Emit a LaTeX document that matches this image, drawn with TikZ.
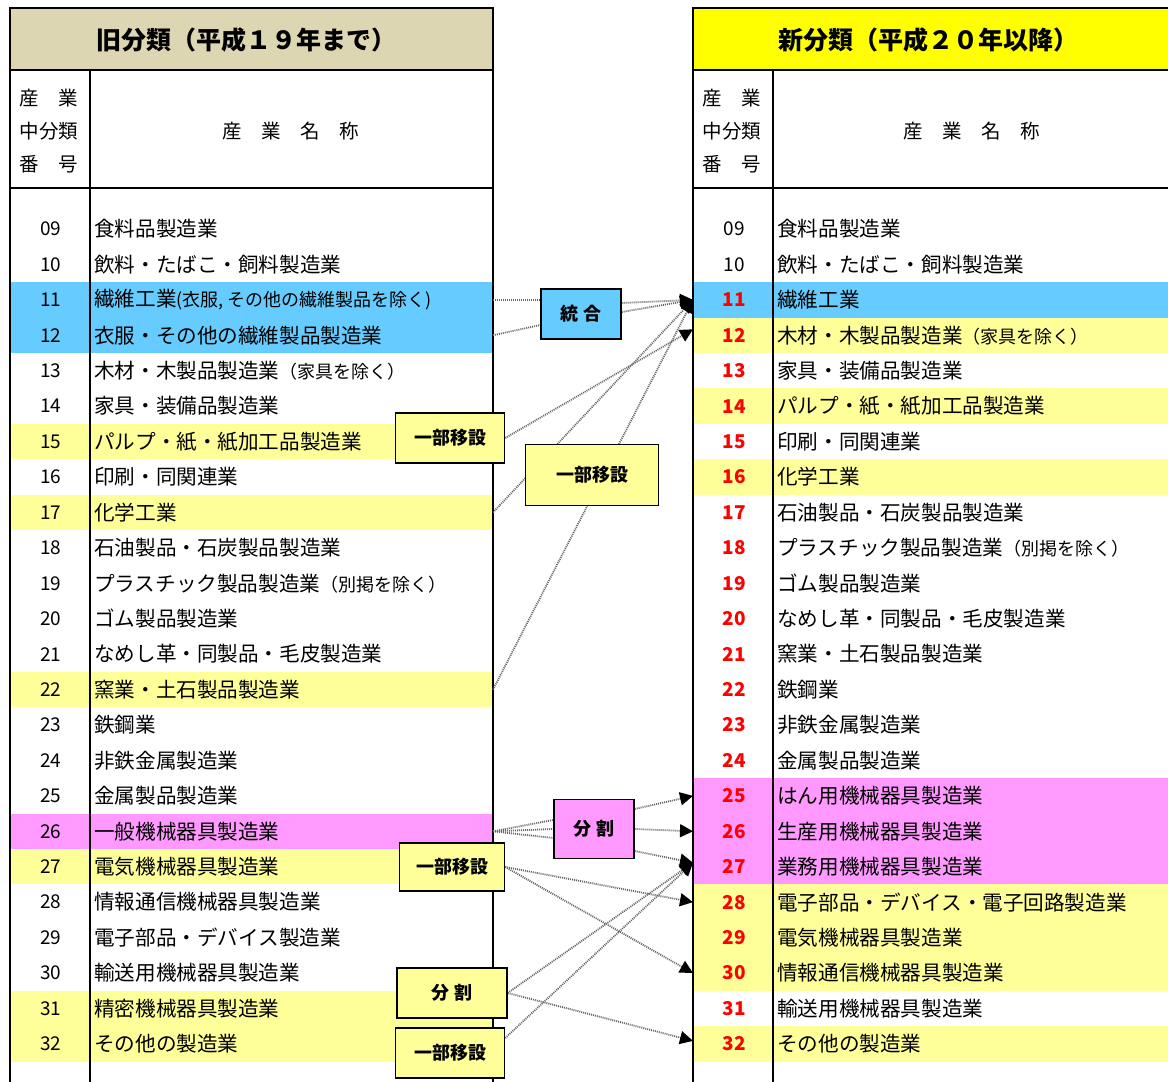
\documentclass[tikz,border=0pt]{standalone}
\usepackage{fontspec}
\setmainfont{Noto Sans CJK JP}
\usetikzlibrary{arrows.meta, positioning}
\pgfdeclarelayer{back}
\pgfdeclarelayer{links}
\pgfsetlayers{back,links,main}
\definecolor{bandblue}{RGB}{102,204,255}
\definecolor{bandyellow}{RGB}{255,255,153}
\definecolor{bandpink}{RGB}{255,153,255}
\definecolor{titleyellow}{RGB}{255,255,0}
\definecolor{titlekhaki}{RGB}{221,214,178}
\newcommand\notefont{\fontsize{18}{18}\selectfont}

\begin{document}
\begin{tikzpicture}[x=1pt, y=-1pt,
                        every node/.style={inner sep=0pt, text=black},
                        oldnum/.style={font=\fontsize{19}{19}\selectfont},
                        newnum/.style={font=\fontsize{19}{19}\selectfont\bfseries, text=red},
                        rowname/.style={font=\fontsize{20.6}{20.6}\selectfont, anchor=west},
                        colhead/.style={font=\fontsize{19.5}{33}\selectfont},
                        tabletitle/.style={font=\fontsize{25}{25}\selectfont\bfseries},
                        tag/.style={draw, line width=1.4pt, minimum height=50pt,
                                    font=\fontsize{18}{18}\selectfont\bfseries},
                        feed/.style={draw=black!60, line width=1.8pt, dash pattern=on 1pt off 1pt},
                        link/.style={feed, -{Triangle[color=black, length=13pt, width=13pt]}}
                        ]
  \useasboundingbox (0,0) rectangle (1168,1082);

  \begin{pgfonlayer}{back}
    % old table
    \fill[titlekhaki] (10,8) rectangle (493,70);
    \foreach \n/\txt/\col [count=\k from 0] in {
        09/食料品製造業/white,
        10/飲料・たばこ・飼料製造業/white,
        11/繊維工業{\notefont (衣服, その他の繊維製品を除く)}/bandblue,
        12/衣服・その他の繊維製品製造業/bandblue,
        13/木材・木製品製造業{\notefont （家具を除く）}/white,
        14/家具・装備品製造業/white,
        15/パルプ・紙・紙加工品製造業/bandyellow,
        16/印刷・同関連業/white,
        17/化学工業/bandyellow,
        18/石油製品・石炭製品製造業/white,
        19/プラスチック製品製造業{\notefont （別掲を除く）}/white,
        20/ゴム製品製造業/white,
        21/なめし革・同製品・毛皮製造業/white,
        22/窯業・土石製品製造業/bandyellow,
        23/鉄鋼業/white,
        24/非鉄金属製造業/white,
        25/金属製品製造業/white,
        26/一般機械器具製造業/bandpink,
        27/電気機械器具製造業/bandyellow,
        28/情報通信機械器具製造業/white,
        29/電子部品・デバイス製造業/white,
        30/輸送用機械器具製造業/white,
        31/精密機械器具製造業/bandyellow,
        32/その他の製造業/bandyellow} {
      \pgfmathsetmacro\y{229+35.43*\k}
      \fill[\col] (10,\y-17.7) rectangle (493,\y+17.7);
      \node[oldnum] (L\n) at (51,\y) {\n};
      \node[rowname] (Lt\n) at (94,\y) {\txt};
      \coordinate (Le\n) at (493,\y);
    }
    \draw[line width=1.6pt] (10,1100) -- (10,8) -- (493,8) -- (493,1100);
    \draw[line width=1.6pt] (10,70) -- (493,70) (10,188) -- (493,188) (90,70) -- (90,1100);

    % new table
    \fill[titleyellow] (693,8) rectangle (1180,70);
    \foreach \n/\txt/\col/\st [count=\k from 0] in {
        09/食料品製造業/white/oldnum,
        10/飲料・たばこ・飼料製造業/white/oldnum,
        11/繊維工業/bandblue/newnum,
        12/木材・木製品製造業{\notefont （家具を除く）}/bandyellow/newnum,
        13/家具・装備品製造業/white/newnum,
        14/パルプ・紙・紙加工品製造業/bandyellow/newnum,
        15/印刷・同関連業/white/newnum,
        16/化学工業/bandyellow/newnum,
        17/石油製品・石炭製品製造業/white/newnum,
        18/プラスチック製品製造業{\notefont （別掲を除く）}/white/newnum,
        19/ゴム製品製造業/white/newnum,
        20/なめし革・同製品・毛皮製造業/white/newnum,
        21/窯業・土石製品製造業/white/newnum,
        22/鉄鋼業/white/newnum,
        23/非鉄金属製造業/white/newnum,
        24/金属製品製造業/white/newnum,
        25/はん用機械器具製造業/bandpink/newnum,
        26/生産用機械器具製造業/bandpink/newnum,
        27/業務用機械器具製造業/bandpink/newnum,
        28/電子部品・デバイス・電子回路製造業/bandyellow/newnum,
        29/電気機械器具製造業/bandyellow/newnum,
        30/情報通信機械器具製造業/bandyellow/newnum,
        31/輸送用機械器具製造業/white/newnum,
        32/その他の製造業/bandyellow/newnum} {
      \pgfmathsetmacro\y{229+35.43*\k}
      \fill[\col] (693,\y-17.7) rectangle (1180,\y+17.7);
      \node[\st] (R\n) at (734,\y) {\n};
      \node[rowname] (Rt\n) at (777,\y) {\txt};
      \coordinate (Re\n) at (693,\y);
    }
    \draw[line width=1.6pt] (693,1100) -- (693,8) -- (1180,8);
    \draw[line width=1.6pt] (693,70) -- (1180,70) (693,188) -- (1180,188) (773,70) -- (773,1100);

    % headings
    \node[tabletitle] (oldtitle) at (246,40) {旧分類（平成１９年まで）};
    \node[tabletitle] (newtitle) at (928,40) {新分類（平成２０年以降）};
    \node[colhead, align=left] (oldcode) at (49,131) {産　業\\中分類\\番　号};
    \node[colhead] (oldhead) at (291,131) {産　業　名　称};
    \node[colhead, align=left] (newcode) at (732,131) {産　業\\中分類\\番　号};
    \node[colhead] (newhead) at (972,131) {産　業　名　称};
  \end{pgfonlayer}

  % change boxes
  \node[tag, fill=bandblue, minimum width=80pt] (tougou) at (581,314) {統 合};
  \node[tag, fill=bandyellow, minimum width=109pt] (ichibuA) at (450,438) {一部移設};
  \node[tag, fill=bandyellow, minimum width=133pt, minimum height=61pt] (ichibuB) at (592,475) {一部移設};
  \node[tag, fill=bandpink, minimum width=80pt, minimum height=59pt] (bunkatsuA) at (594,829) {分 割};
  \node[tag, fill=bandyellow, minimum width=105pt, minimum height=48pt] (ichibuC) at (452,867) {一部移設};
  \node[tag, fill=bandyellow, minimum width=110pt] (bunkatsuB) at (452,993) {分 割};
  \node[tag, fill=bandyellow, minimum width=109pt] (ichibuD) at (450,1053) {一部移設};

  \begin{pgfonlayer}{links}
    \draw[feed] (Le11) -- (Le11 -| tougou.west);
    \draw[feed] (Le12) -- ([yshift=-11pt]tougou.west);
    \draw[link] ([yshift=11pt]tougou.east) -- (Re11);
    \draw[link] ([yshift=2pt]tougou.east) -- (Re11);
    \draw[link] (ichibuA.east) -- ([yshift=6pt]Re12);
    \draw[link] (Le17) -- (Re11);
    \draw[link] (Le22) -- (Re11);
    \draw[feed] (Le26) -- ([yshift=9pt]bunkatsuA.west);
    \draw[feed] (Le26) -- (bunkatsuA.west);
    \draw[feed] (Le26) -- ([yshift=-9pt]bunkatsuA.west);
    \draw[link] ([yshift=20pt]bunkatsuA.east) -- (Re25);
    \draw[link] (bunkatsuA.east) -- (Re26);
    \draw[link] ([yshift=-22pt]bunkatsuA.east) -- ([yshift=4pt]Re27);
    \draw[link] (ichibuC.east) -- (Re28);
    \draw[link] (ichibuC.east) -- (Re30);
    \draw[link] (bunkatsuB.east) -- ([yshift=4pt]Re27);
    \draw[link] (bunkatsuB.east) -- ([yshift=3pt]Re32);
    \draw[link] ([yshift=15pt]ichibuD.east) -- ([yshift=4pt]Re27);
  \end{pgfonlayer}
\end{tikzpicture}
\end{document}
